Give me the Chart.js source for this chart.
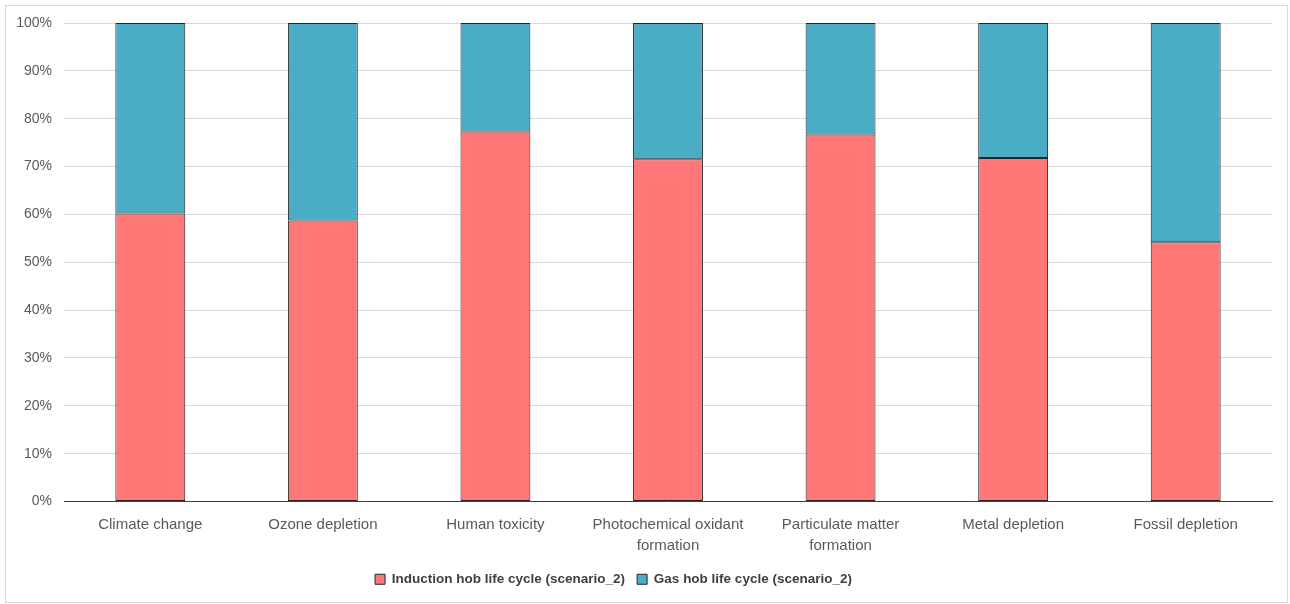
<!DOCTYPE html>
<html>
<head>
<meta charset="utf-8">
<title>Induction vs gas hob life cycle</title>
<script src="https://cdn.jsdelivr.net/npm/chart.js@4.4.1/dist/chart.umd.min.js"></script>
<style>
  html, body { margin: 0; padding: 0; background: #ffffff; }
  #wrap { position: relative; width: 1290px; height: 604px; }
</style>
</head>
<body>
<div id="wrap"><canvas id="chart" width="1290" height="604"></canvas></div>
<script>
// Impact categories (multi-line labels are split into arrays)
const categories = [
  'Climate change',
  'Ozone depletion',
  'Human toxicity',
  ['Photochemical oxidant', 'formation'],
  ['Particulate matter', 'formation'],
  'Metal depletion',
  'Fossil depletion'
];

// Share of each impact category (%), scenario 2
const inductionShare = [60.2, 58.7, 77.3, 71.5, 76.7, 71.8, 54.2];
const gasShare = [39.8, 41.3, 22.7, 28.5, 23.3, 28.2, 45.8];

const seriesNames = [
  'Induction hob life cycle (scenario_2)',
  'Gas hob life cycle (scenario_2)'
];

const yTicks = [0, 10, 20, 30, 40, 50, 60, 70, 80, 90, 100];

const baseFont = "'Liberation Sans', Arial, sans-serif";

// Light frame around the whole chart
const frame = {
  id: 'frame',
  beforeDraw(chart) {
    const ctx = chart.ctx;
    ctx.save();
    ctx.fillStyle = '#ffffff';
    ctx.fillRect(0, 0, chart.width, chart.height);
    ctx.strokeStyle = '#d9d9d9';
    ctx.lineWidth = 1;
    ctx.strokeRect(5.5, 5.5, 1282, 597);
    ctx.restore();
  }
};

new Chart(document.getElementById('chart'), {
  type: 'bar',
  data: {
    labels: categories,
    datasets: [
      {
        label: seriesNames[0],
        data: inductionShare,
        backgroundColor: '#ff7777',
        borderColor: '#262626',
        borderWidth: 1,
        borderSkipped: false
      },
      {
        label: seriesNames[1],
        data: gasShare,
        backgroundColor: '#4bacc6',
        borderColor: '#262626',
        borderWidth: 1,
        borderSkipped: false
      }
    ]
  },
  options: {
    responsive: false,
    animation: false,
    devicePixelRatio: 1,
    // the negative left inset keeps the legend centred a little left of the plot
    layout: { padding: { left: -45, right: 18, top: 23, bottom: 8 } },
    datasets: {
      bar: { categoryPercentage: 1.0, barPercentage: 0.405 }
    },
    scales: {
      x: {
        stacked: true,
        grid: { display: false, drawTicks: false },
        border: { display: true, color: '#404040', width: 1 },
        ticks: {
          color: '#595959',
          font: { family: baseFont, size: 15, lineHeight: 1.4 },
          padding: 13,
          maxRotation: 0,
          autoSkip: false
        },
        afterFit(scale) { scale.height = 59; }
      },
      y: {
        stacked: true,
        min: 0,
        max: 100,
        afterBuildTicks(scale) {
          scale.ticks = yTicks.map(v => ({ value: v }));
        },
        grid: { color: '#d9d9d9', lineWidth: 1, drawTicks: false },
        border: { display: false },
        ticks: {
          color: '#595959',
          font: { family: baseFont, size: 14 },
          padding: 12,
          callback: v => v + '%'
        },
        afterFit(scale) { scale.width = 109; }
      }
    },
    plugins: {
      legend: {
        position: 'bottom',
        labels: {
          color: '#404040',
          font: { family: baseFont, size: 13.5, weight: 'bold' },
          boxWidth: 10,
          boxHeight: 10,
          padding: 12
        }
      },
      tooltip: { enabled: false }
    }
  },
  plugins: [frame]
});
</script>
</body>
</html>
